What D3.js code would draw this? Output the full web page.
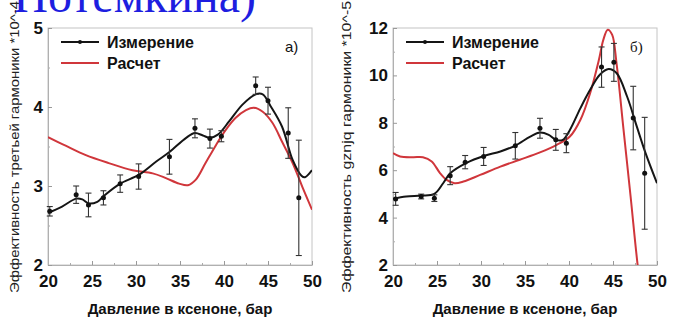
<!DOCTYPE html>
<html>
<head>
<meta charset="utf-8">
<script src="https://cdn.jsdelivr.net/npm/d3@7"></script>
<style>
  body { margin: 0; background: #fff; }
  svg { display: block; }
  text { font-family: "Liberation Sans", Arial, sans-serif; }
</style>
</head>
<body>
<script>
// ---- panel a) third harmonic, *10^-4
const aPressure = [20.2, 23.2, 24.6, 26.3, 28.2, 30.3, 33.8, 36.7, 38.4, 39.7, 43.6, 45.0, 47.3, 48.5];
const aMeasured = [2.68, 2.89, 2.76, 2.85, 3.03, 3.12, 3.37, 3.73, 3.60, 3.63, 4.27, 4.08, 3.67, 2.85];
const aError    = [0.06, 0.11, 0.15, 0.09, 0.11, 0.16, 0.22, 0.12, 0.12, 0.07, 0.11, 0.17, 0.32, 0.73];
const aFitX = [20, 21.6, 23.2, 23.9, 24.6, 25.6, 26.3, 28.2, 30.3, 32.3, 33.8, 35.7, 36.7, 37.6, 38.4, 39.3, 40.6, 42.1, 43.6, 44.4, 45.3, 46.6, 47.8, 48.8, 49.2, 50];
const aFitY = [2.66, 2.74, 2.84, 2.83, 2.78, 2.80, 2.87, 3.03, 3.14, 3.31, 3.43, 3.61, 3.67, 3.64, 3.61, 3.65, 3.82, 4.03, 4.16, 4.16, 4.01, 3.75, 3.33, 3.13, 3.11, 3.20];
const aCalcX = [20, 22, 24.3, 26.9, 29.6, 31.9, 33.4, 34.9, 35.9, 36.8, 37.9, 39.1, 40.2, 41.3, 42.5, 43.4, 44.4, 45.5, 46.6, 47.8, 48.9, 50];
const aCalcY = [3.62, 3.51, 3.39, 3.29, 3.20, 3.16, 3.10, 3.03, 3.01, 3.08, 3.29, 3.52, 3.71, 3.86, 3.96, 3.99, 3.94, 3.80, 3.56, 3.29, 2.99, 2.70];

// ---- panel б) *10^-5
const bPressure = [20.3, 23.2, 24.7, 26.5, 28.2, 30.3, 33.9, 36.7, 38.5, 39.7, 43.7, 45.1, 47.3, 48.6];
const bMeasured = [4.79, 4.89, 4.82, 5.77, 6.34, 6.58, 7.03, 7.77, 7.28, 7.14, 10.35, 10.55, 8.20, 5.87];
const bError    = [0.27, 0.10, 0.14, 0.38, 0.28, 0.38, 0.56, 0.42, 0.44, 0.40, 0.85, 0.80, 1.34, 2.36];
const bFitX = [20, 21.5, 23.2, 24.7, 25.7, 26.5, 28.3, 30.4, 32.2, 33.9, 35.6, 36.7, 37.7, 38.5, 39.3, 40.1, 41.3, 42.4, 43.5, 44.5, 45.4, 46.6, 47.7, 48.7, 50];
const bFitY = [4.79, 4.89, 4.93, 5.00, 5.45, 5.87, 6.30, 6.61, 6.79, 7.04, 7.42, 7.59, 7.49, 7.28, 7.28, 7.70, 8.62, 9.39, 10.03, 10.27, 10.10, 9.11, 7.85, 6.72, 5.45];
const bCalcX = [20, 20.8, 22.3, 23.4, 24.4, 25.3, 26.1, 27, 28, 29.9, 32.2, 34.4, 36.7, 38.6, 40.1, 41.3, 42.4, 43.4, 43.9, 44.4, 44.9, 45.4, 46.2, 47, 47.8, 48.3];
const bCalcY = [6.72, 6.58, 6.55, 6.55, 6.37, 5.90, 5.59, 5.45, 5.52, 5.80, 6.15, 6.44, 6.75, 7.07, 7.42, 8.13, 9.25, 10.66, 11.50, 11.93, 11.72, 10.52, 7.70, 4.89, 2.0, 0.6];

const xTicks = [20, 25, 30, 35, 40, 45, 50];
const aYTicks = [2, 3, 4, 5];
const bYTicks = [2, 4, 6, 8, 10, 12];
const legendNames = ["Измерение", "Расчет"];
const xTitle = "Давление в ксеноне, бар";

const W = 673, H = 332;
const svg = d3.select("body").append("svg").attr("width", W).attr("height", H);

// blue caption cut off at the top
svg.append("text")
  .attr("x", 256).attr("y", 12)
  .attr("text-anchor", "end")
  .style("font-family", "'Liberation Serif', 'Times New Roman', serif")
  .style("font-size", "48px")
  .attr("fill", "#1e1ee0")
  .text(". Потемкина)");

function panel(cfg) {
  const x = d3.scaleLinear().domain([20, 50]).range([cfg.left, cfg.right]);
  const y = d3.scaleLinear().domain(cfg.yDomain).range([265, 28]);
  const g = svg.append("g");

  // frame
  g.append("rect")
    .attr("x", cfg.left).attr("y", 28)
    .attr("width", cfg.right - cfg.left).attr("height", 265 - 28)
    .attr("fill", "none").attr("stroke", "#c4c4c4");

  // minor ticks
  const xMinor = d3.range(22.5, 50, 5);
  g.append("g").attr("transform", "translate(0,265)")
    .call(d3.axisBottom(x).tickValues(xMinor).tickSize(-2).tickFormat(""))
    .call(a => a.select(".domain").remove())
    .call(a => a.selectAll("line").attr("stroke", "#aaa"));
  g.append("g").attr("transform", "translate(" + cfg.left + ",0)")
    .call(d3.axisLeft(y).tickValues(cfg.yMinor).tickSize(-2).tickFormat(""))
    .call(a => a.select(".domain").remove())
    .call(a => a.selectAll("line").attr("stroke", "#aaa"));

  // major axes
  const styleTicks = a => a.selectAll("text").attr("fill", "#111")
    .style("font-size", "17px").style("font-weight", "bold")
    .style("font-family", "'Liberation Sans', Arial, sans-serif");
  g.append("g").attr("transform", "translate(0,265)")
    .call(d3.axisBottom(x).tickValues(xTicks).tickFormat(d3.format("d"))
      .tickSizeInner(-4).tickSizeOuter(0).tickPadding(10))
    .call(a => a.select(".domain").attr("stroke", "#b0b0b0"))
    .call(a => a.selectAll("line").attr("stroke", "#999"))
    .call(styleTicks);
  g.append("g").attr("transform", "translate(" + cfg.left + ",0)")
    .call(d3.axisLeft(y).tickValues(cfg.yTicks).tickFormat(d3.format("d"))
      .tickSizeInner(-4).tickSizeOuter(0).tickPadding(5))
    .call(a => a.select(".domain").attr("stroke", "#b0b0b0"))
    .call(a => a.selectAll("line").attr("stroke", "#999"))
    .call(styleTicks);

  // axis titles
  g.append("text")
    .attr("x", (cfg.left + cfg.right) / 2).attr("y", 314)
    .attr("text-anchor", "middle")
    .style("font-size", "15px").style("font-weight", "bold").attr("fill", "#111")
    .text(xTitle);
  g.append("text")
    .attr("transform", "translate(" + cfg.yLabelX + ",293) rotate(-90)")
    .attr("text-anchor", "start")
    .attr("textLength", 292).attr("lengthAdjust", "spacingAndGlyphs")
    .style("font-size", "13px").attr("fill", "#222")
    .text(cfg.yTitle);

  // clip
  const clipId = "clip" + cfg.id;
  svg.append("clipPath").attr("id", clipId).append("rect")
    .attr("x", cfg.left).attr("y", 28).attr("width", cfg.right - cfg.left).attr("height", 237);

  const line = d3.line().x(d => x(d[0])).y(d => y(d[1])).curve(d3.curveCatmullRom.alpha(0.5));

  g.append("path")
    .datum(cfg.calcX.map((v, i) => [v, cfg.calcY[i]]))
    .attr("clip-path", "url(#" + clipId + ")")
    .attr("d", line).attr("fill", "none")
    .attr("stroke", "#d0363b").attr("stroke-width", 2);

  g.append("path")
    .datum(cfg.fitX.map((v, i) => [v, cfg.fitY[i]]))
    .attr("clip-path", "url(#" + clipId + ")")
    .attr("d", line).attr("fill", "none")
    .attr("stroke", "#151515").attr("stroke-width", 2);

  // error bars + points
  const pts = cfg.px.map((v, i) => ({ p: v, m: cfg.py[i], e: cfg.pe[i] }));
  const eb = g.append("g").attr("stroke", "#333").attr("stroke-width", 1.1);
  eb.selectAll(".v").data(pts).join("line")
    .attr("x1", d => x(d.p)).attr("x2", d => x(d.p))
    .attr("y1", d => y(d.m - d.e)).attr("y2", d => y(d.m + d.e));
  eb.selectAll(".t").data(pts).join("line")
    .attr("x1", d => x(d.p) - 3).attr("x2", d => x(d.p) + 3)
    .attr("y1", d => y(d.m + d.e)).attr("y2", d => y(d.m + d.e));
  eb.selectAll(".b").data(pts).join("line")
    .attr("x1", d => x(d.p) - 3).attr("x2", d => x(d.p) + 3)
    .attr("y1", d => y(d.m - d.e)).attr("y2", d => y(d.m - d.e));
  g.append("g").selectAll("circle").data(pts).join("circle")
    .attr("cx", d => x(d.p)).attr("cy", d => y(d.m)).attr("r", 2.5).attr("fill", "#111");

  // legend
  const lx = cfg.left + 13;
  g.append("line").attr("x1", lx).attr("x2", lx + 38).attr("y1", 42).attr("y2", 42)
    .attr("stroke", "#151515").attr("stroke-width", 2);
  g.append("circle").attr("cx", lx + 19).attr("cy", 42).attr("r", 2).attr("fill", "#111");
  g.append("line").attr("x1", lx).attr("x2", lx + 38).attr("y1", 63).attr("y2", 63)
    .attr("stroke", "#d0363b").attr("stroke-width", 2);
  legendNames.forEach((n, i) => {
    g.append("text").attr("x", lx + 46).attr("y", 48 + i * 21)
      .style("font-size", "16px").style("font-weight", "bold").attr("fill", "#111")
      .text(n);
  });
  g.append("text").attr("x", cfg.right - 27).attr("y", 52)
    .style("font-size", "15px")
    .style("font-family", cfg.tagFont).attr("fill", "#111")
    .text(cfg.tag);
}

panel({
  id: "a", left: 48, right: 312, yDomain: [2, 5],
  yTicks: aYTicks, yMinor: [2.5, 3.5, 4.5],
  yLabelX: 19, yTitle: "Эффективность третьей гармоники *10^-4",
  px: aPressure, py: aMeasured, pe: aError,
  fitX: aFitX, fitY: aFitY, calcX: aCalcX, calcY: aCalcY,
  tag: "а)", tagFont: "'Liberation Sans', Arial, sans-serif"
});
panel({
  id: "b", left: 393, right: 657, yDomain: [2, 12],
  yTicks: bYTicks, yMinor: [3, 5, 7, 9, 11],
  yLabelX: 351, yTitle: "Эффективность gznjq гармоники *10^-5",
  px: bPressure, py: bMeasured, pe: bError,
  fitX: bFitX, fitY: bFitY, calcX: bCalcX, calcY: bCalcY,
  tag: "б)", tagFont: "'Liberation Serif', 'Times New Roman', serif"
});
</script>
</body>
</html>
